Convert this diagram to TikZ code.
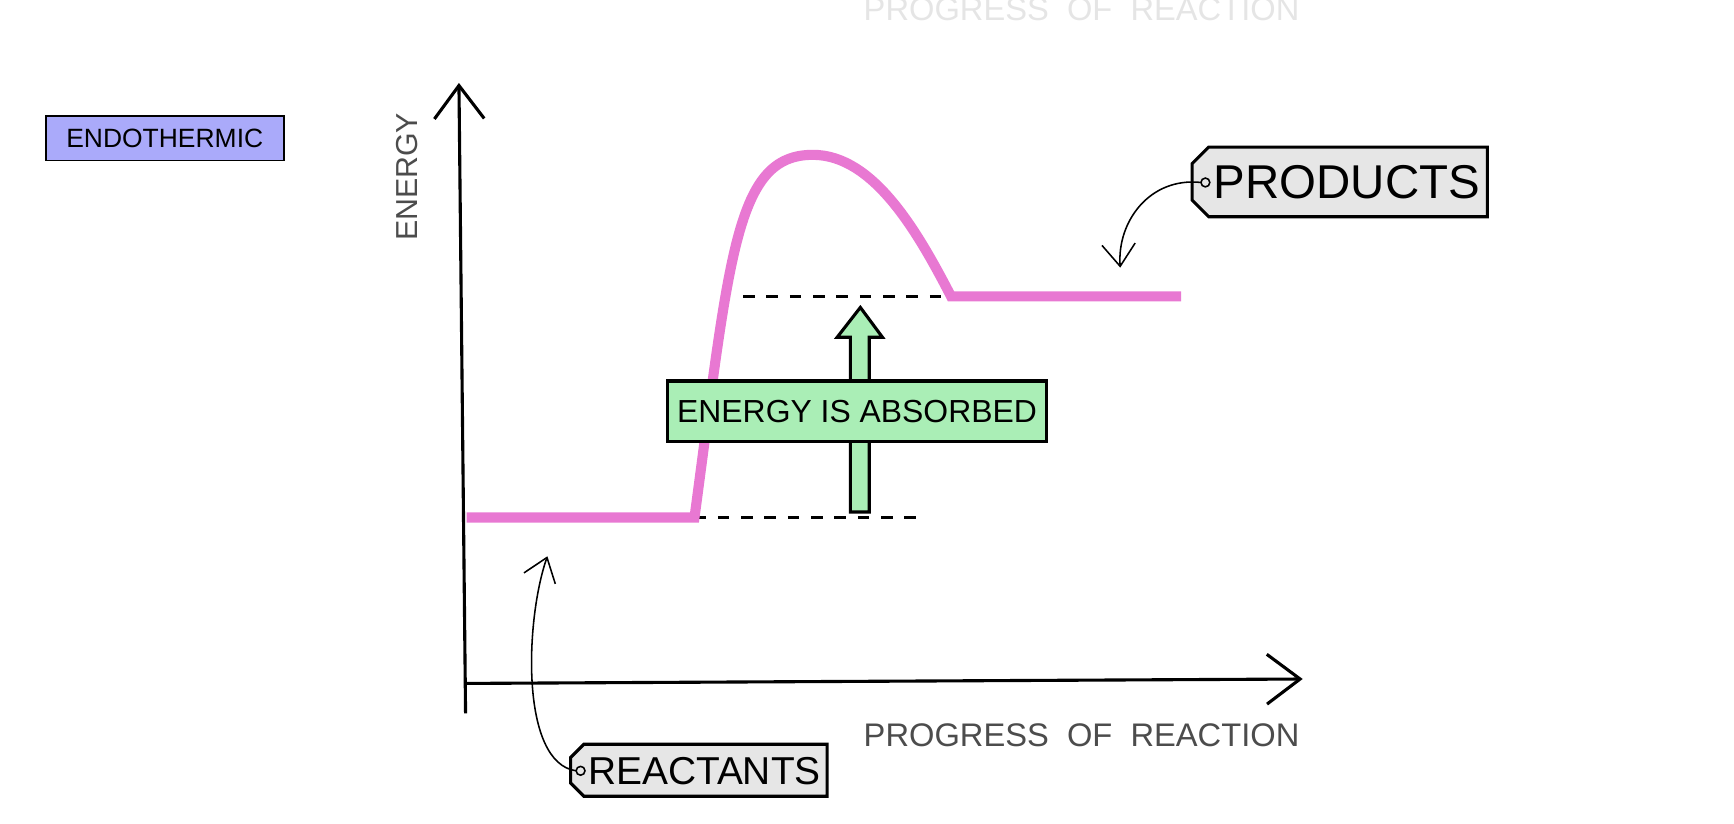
\documentclass[tikz,border=0pt]{standalone}
\usepackage{fontspec}
\setmainfont{Liberation Sans}
\usetikzlibrary{arrows.meta}
\definecolor{curvepink}{RGB}{232,120,210}
\definecolor{labelblue}{RGB}{170,170,250}
\definecolor{labelgreen}{RGB}{170,238,182}
\definecolor{taggray}{RGB}{230,230,230}
\tikzset{
  axis/.style={thick, -{Straight Barb[length=3mm,width=4.5mm]}},
  pointer/.style={thin, -{Straight Barb[length=2mm,width=3mm]}},
  tagtext/.style={inner sep=0pt, font=\fontsize{10}{12}\selectfont},
}
\begin{document}
\begin{tikzpicture}[x=0.01cm, y=-0.01cm]
  % the frame
  \useasboundingbox (0,0) rectangle (1568,745);
  % faint label at the top
  \node[text=gray!20, font=\fontsize{8.4}{10}\selectfont] at (978,8) {PROGRESS\ \ OF\ \ REACTION};
  % the label
  \node[draw, fill=labelblue, minimum width=2.15cm, minimum height=0.4cm, inner sep=0pt,
    font=\fontsize{6.8}{8}\selectfont] (endo) at (149,125) {ENDOTHERMIC};
  % the axes
  \draw[axis] (421,645) -- (415,75);
  \draw[axis] (422,618) -- (1178,614);
  \node[rotate=90, font=\fontsize{7.8}{9}\selectfont, gray!60!black] (ylab) at (368,160) {ENERGY};
  \node[font=\fontsize{8.4}{10}\selectfont, gray!60!black] (xlab) at (978,665) {PROGRESS\ \ OF\ \ REACTION};
  % the dashed levels
  \draw[thick, dashed] (672,268) -- (860,268);
  \draw[thick, dashed] (628,468) -- (835,468);
  % the energy curve
  \draw[curvepink, line width=2.6pt]
    (422,468) -- (628,468)
    .. controls (660,230) and (665,140) .. (735,140)
    .. controls (790,140) and (830,210) .. (860,268)
    -- (1068,268);
  % the arrow
  \draw[fill=labelgreen, thick] (769,463) -- (769,305) -- (757,305) -- (778,278)
    -- (798,305) -- (786,305) -- (786,463) -- cycle;
  \node[draw, thick, fill=labelgreen, minimum width=3.43cm, minimum height=0.55cm, inner sep=0pt,
    font=\fontsize{8.2}{10}\selectfont] (absorbed) at (775,372) {ENERGY IS ABSORBED};
  % the tags
  \draw[thick, fill=taggray] (1345,133) -- (1345,196) -- (1093,196) -- (1078,181)
    -- (1078,148) -- (1093,133) -- cycle;
  \node[tagtext, font=\fontsize{12.2}{14}\selectfont] (prod) at (1218,165) {PRODUCTS};
  \draw (1090,165) circle (4);
  \coordinate (prodtip) at (1013,242);
  \draw[pointer] (1086,165) .. controls (1040,160) and (1010,200) .. (prodtip);
  \draw[thick, fill=taggray] (748,673) -- (748,720) -- (528,720) -- (516,708)
    -- (516,685) -- (528,673) -- cycle;
  \node[tagtext] (react) at (637,697) {REACTANTS};
  \draw (525,697) circle (4);
  \coordinate (reacttip) at (495,503);
  \draw[pointer] (521,697) .. controls (470,690) and (475,560) .. (reacttip);
\end{tikzpicture}
\end{document}
